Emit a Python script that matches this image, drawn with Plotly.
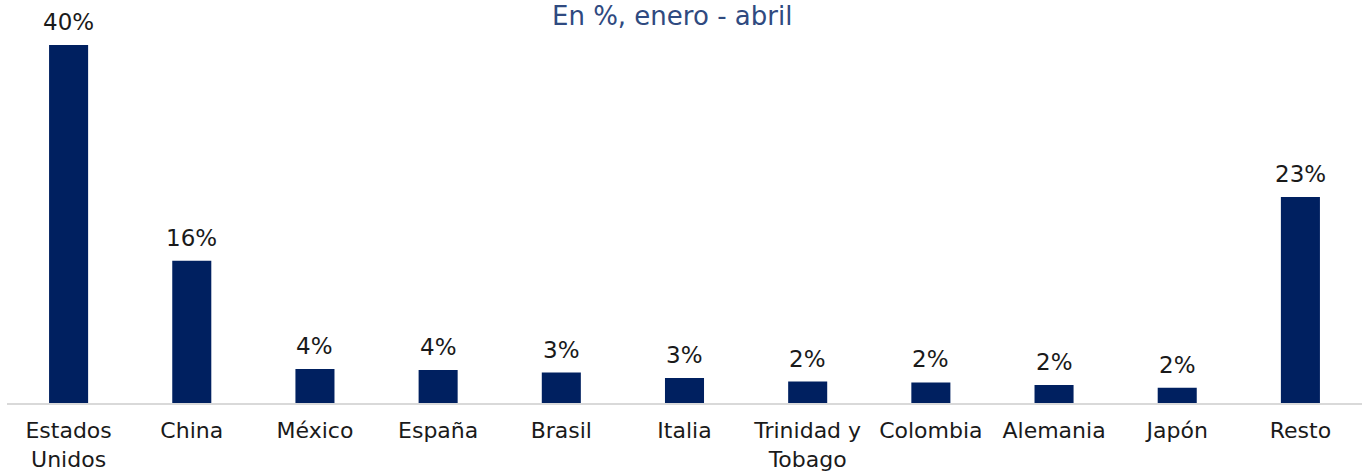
import plotly.graph_objects as go

categories = ["Estados<br>Unidos", "China", "México", "España", "Brasil", "Italia",
              "Trinidad y<br>Tobago", "Colombia", "Alemania", "Japón", "Resto"]
values = [40.0, 15.9, 3.8, 3.7, 3.4, 2.8, 2.4, 2.3, 2.0, 1.7, 23.0]
labels = [f"{round(v)}%" for v in values]

FONT = "DejaVu Sans"
fig = go.Figure(go.Bar(
    x=categories, y=values,
    marker=dict(color="#002060", line=dict(width=0)),
    hoverinfo="skip",
))
for c, v, t in zip(categories, values, labels):
    fig.add_annotation(x=c, y=v, text=t, showarrow=False, yanchor="bottom",
                       yshift=8, font=dict(family=FONT, size=23, color="#1a1a1a"))

fig.update_layout(
    width=1369, height=474,
    margin=dict(l=7, r=7, t=10, b=71),
    paper_bgcolor="white", plot_bgcolor="white",
    bargap=0.683,
    showlegend=False,
    title=dict(text="En %, enero - abril", x=0.491, xanchor="center",
               y=1 - 16/474, yanchor="middle", yref="container",
               font=dict(family=FONT, size=26, color="#2F4A80")),
    xaxis=dict(showline=True, linecolor="#d9d9d9", linewidth=2,
               ticks="", tickfont=dict(family=FONT, size=22, color="#1a1a1a"),
               ticklabelstandoff=7, showgrid=False, automargin=False),
    yaxis=dict(range=[0, 43.9], visible=False, showgrid=False, zeroline=False),
)
fig.write_html("out.html", config={"displayModeBar": False},
               post_script="document.body.style.margin='0';")
